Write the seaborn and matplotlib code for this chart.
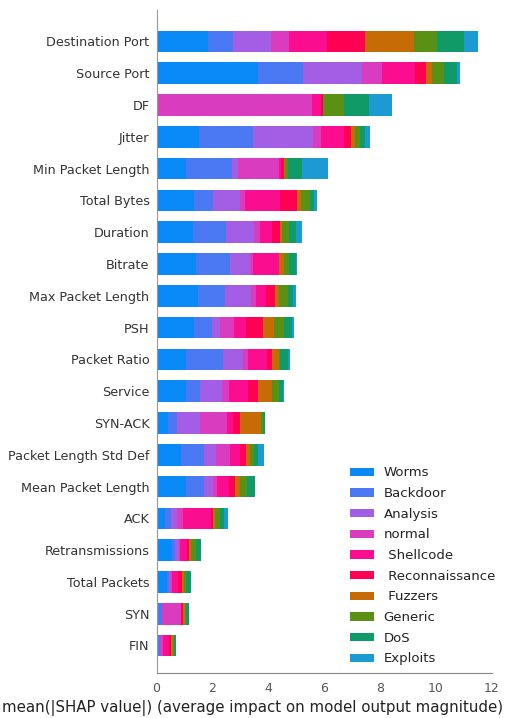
import numpy as np
import pandas as pd
import matplotlib
matplotlib.use("Agg")
import matplotlib.pyplot as plt
import seaborn as sns

features = ["Destination Port", "Source Port", "DF", "Jitter", "Min Packet Length",
            "Total Bytes", "Duration", "Bitrate", "Max Packet Length", "PSH",
            "Packet Ratio", "Service", "SYN-ACK", "Packet Length Std Def",
            "Mean Packet Length", "ACK", "Retransmissions", "Total Packets", "SYN", "FIN"]

classes = ["Worms", "Backdoor", "Analysis", "normal", " Shellcode", " Reconnaissance",
           " Fuzzers", "Generic", "DoS", "Exploits"]

worms     = [1.83, 3.62, 0.00, 1.51, 1.07, 1.36, 1.31, 1.43, 1.49, 1.33, 1.04, 1.07, 0.40, 0.88, 1.04, 0.32, 0.56, 0.36, 0.00, 0.00]
backdoor  = [0.91, 1.64, 0.00, 1.93, 1.62, 0.66, 1.19, 1.21, 0.97, 0.66, 1.34, 0.48, 0.34, 0.81, 0.65, 0.20, 0.12, 0.08, 0.20, 0.12]
analysis  = [1.37, 2.09, 0.00, 2.18, 0.21, 0.98, 0.98, 0.69, 0.92, 0.27, 0.72, 0.80, 0.81, 0.45, 0.34, 0.22, 0.12, 0.05, 0.00, 0.00]
normal    = [0.65, 0.72, 5.55, 0.28, 1.50, 0.18, 0.23, 0.12, 0.19, 0.53, 0.16, 0.23, 0.97, 0.50, 0.14, 0.20, 0.05, 0.07, 0.66, 0.12]
shellcode = [1.36, 1.18, 0.35, 0.81, 0.05, 1.25, 0.42, 0.92, 0.36, 0.42, 0.69, 0.68, 0.22, 0.36, 0.41, 1.01, 0.25, 0.20, 0.00, 0.20]
recon     = [1.34, 0.39, 0.05, 0.27, 0.12, 0.59, 0.30, 0.03, 0.33, 0.62, 0.18, 0.36, 0.26, 0.21, 0.24, 0.07, 0.05, 0.15, 0.09, 0.08]
fuzzers   = [1.75, 0.23, 0.02, 0.12, 0.03, 0.15, 0.06, 0.17, 0.14, 0.38, 0.24, 0.51, 0.74, 0.12, 0.16, 0.09, 0.08, 0.06, 0.06, 0.06]
generic   = [0.84, 0.42, 0.76, 0.19, 0.12, 0.33, 0.27, 0.19, 0.29, 0.36, 0.06, 0.24, 0.09, 0.17, 0.26, 0.18, 0.20, 0.10, 0.06, 0.06]
dos       = [0.95, 0.45, 0.87, 0.16, 0.48, 0.14, 0.24, 0.24, 0.19, 0.28, 0.26, 0.15, 0.06, 0.15, 0.30, 0.14, 0.17, 0.17, 0.08, 0.06]
exploits  = [0.50, 0.12, 0.84, 0.19, 0.94, 0.10, 0.20, 0.02, 0.11, 0.09, 0.10, 0.03, 0.01, 0.21, 0.00, 0.12, 0.00, 0.00, 0.00, 0.00]

series = [worms, backdoor, analysis, normal, shellcode, recon, fuzzers, generic, dos, exploits]
colors = ["#0a8af7", "#4b79f4", "#a45ee5", "#d93cbf", "#fb0d90", "#ff0052",
          "#c76b07", "#5a9013", "#109a67", "#1b9bd2"]

sns.set_style("white")
plt.rcParams['font.family'] = ['DejaVu Sans']

W, H = 505, 718
fig = plt.figure(figsize=(W / 100, H / 100), dpi=100)
ax_left, ax_right, ax_top, ax_bottom = 156.5, 491.7, 9.7, 673.3
ax = fig.add_axes([ax_left / W, 1 - ax_bottom / H, (ax_right - ax_left) / W, (ax_bottom - ax_top) / H])

cum = np.cumsum(np.array(series), axis=0)
for i in range(len(classes) - 1, -1, -1):
    df = pd.DataFrame({"feature": features, "value": cum[i]})
    sns.barplot(data=df, x="value", y="feature", orient="h", color=colors[i],
                width=0.68, saturation=1, label=classes[i], ax=ax, errorbar=None,
                linewidth=0, edgecolor="none")

if ax.get_legend() is not None:
    ax.get_legend().remove()

ax.set_ylim(19.875, -1)
ax.set_xlim(0, 12)
ax.set_xticks([0, 2, 4, 6, 8, 10, 12])
ax.set_ylabel("")
ax.set_xlabel("mean(|SHAP value|) (average impact on model output magnitude)",
              fontsize=10.8, color="#222222")
ax.xaxis.set_label_coords((253 - ax_left) / (ax_right - ax_left), -(708 - ax_bottom) / (ax_bottom - ax_top))
ax.xaxis.label.set_va("center")
ax.tick_params(axis="y", length=0, labelsize=9.2, labelcolor="#333333", pad=5)
ax.tick_params(axis="x", length=4, width=0.8, labelsize=9, labelcolor="#555555",
               color="#888888", pad=2)
for s in ["top", "right"]:
    ax.spines[s].set_visible(False)
ax.spines["left"].set_color("#999999")
ax.spines["bottom"].set_color("#888888")
ax.spines["left"].set_linewidth(0.8)
ax.spines["bottom"].set_linewidth(0.8)

handles, labels = ax.get_legend_handles_labels()
handles, labels = handles[::-1], labels[::-1]
leg = fig.legend(handles, labels, loc="upper left",
                 bbox_to_anchor=(350 / W, 1 - 466.5 / H), bbox_transform=fig.transFigure,
                 frameon=False, fontsize=9.5, handlelength=1.8, handleheight=0.6,
                 handletextpad=0.75, labelspacing=0.58, borderpad=0, borderaxespad=0)
for t in leg.get_texts():
    t.set_color("#222222")

fig.savefig("out.png", dpi=100)
